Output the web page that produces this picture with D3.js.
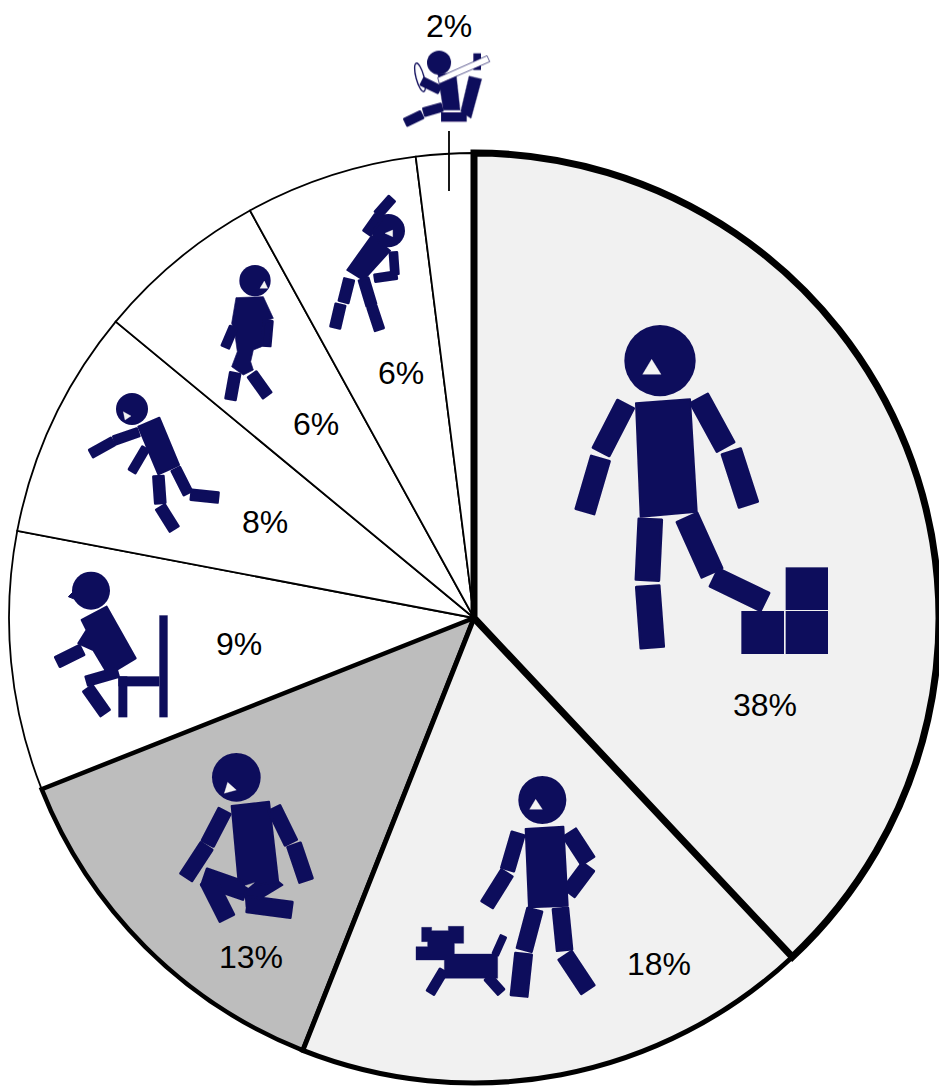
<!DOCTYPE html>
<html>
<head>
<meta charset="utf-8">
<script src="https://cdn.jsdelivr.net/npm/d3@7"></script>
<style>
  html, body { margin: 0; padding: 0; background: #fff; overflow: hidden; }
  svg { display: block; }
  text { font-family: "Liberation Sans", Arial, sans-serif; font-size: 32px; fill: #000; text-anchor: middle; dominant-baseline: central; }
</style>
</head>
<body>
<div id="container"></div>
<script>
// values, clockwise from 12 o'clock
const values = [38, 18, 13, 9, 8, 6, 6, 2];
const labels = ['38%', '18%', '13%', '9%', '8%', '6%', '6%', '2%'];

const width = 939;
const height = 1086;
const cx = 474;
const cy = 618;
const radius = 465;
const navy = '#0d0b5b';

const sliceFill = ['#f1f1f1', '#f1f1f1', '#bdbdbd', '#fff', '#fff', '#fff', '#fff', '#fff'];
const sliceStroke = [7, 5, 4.5, 1.8, 1.8, 1.8, 1.8, 1.8];
const labelPos = [[765, 705], [659, 964], [251, 957], [239, 644], [265, 522], [316, 424], [401, 373], [449, 26]];

const svg = d3.select('#container').append('svg')
  .attr('width', width)
  .attr('height', height);

svg.append('filter').attr('id', 'soft')
  .append('feGaussianBlur').attr('stdDeviation', 1.2);

const pie = d3.pie().sort(null)(values);
const arc = d3.arc().innerRadius(0).outerRadius(radius);

// thin slices first so the heavy outlines sit on top
svg.append('g')
  .attr('transform', `translate(${cx},${cy})`)
  .selectAll('path')
  .data(pie.map((d, i) => ({ ...d, i })).sort((a, b) => sliceStroke[a.i] - sliceStroke[b.i]))
  .enter()
  .append('path')
  .attr('d', arc)
  .attr('fill', d => sliceFill[d.i])
  .attr('stroke', '#000')
  .attr('stroke-width', d => sliceStroke[d.i])
  .attr('stroke-linejoin', 'miter');

// leader for the 2% slice
svg.append('line')
  .attr('x1', 449).attr('x2', 449)
  .attr('y1', 131).attr('y2', 191)
  .attr('stroke', '#000').attr('stroke-width', 1.8);

svg.selectAll('text.pct')
  .data(labels)
  .enter()
  .append('text')
  .attr('class', 'pct')
  .attr('x', (d, i) => labelPos[i][0])
  .attr('y', (d, i) => labelPos[i][1])
  .text(d => d);

// icon helpers, coordinates are in 3x crop pixels
const icon = (ox, oy) => svg.append('g')
  .attr('transform', `translate(${ox},${oy}) scale(${1 / 3})`)
  .attr('filter', 'url(#soft)');

const poly = (g, pts, fill = navy, round = 6) => g.append('polygon')
  .attr('points', pts.map(p => p.join(',')).join(' '))
  .attr('fill', fill)
  .attr('stroke', fill)
  .attr('stroke-width', round)
  .attr('stroke-linejoin', 'round');

const limb = (g, x1, y1, x2, y2, w0) => {
  const w = w0 + 5;
  const len = Math.hypot(x2 - x1, y2 - y1);
  const nx = -(y2 - y1) / len * (w - 8) / 2;
  const ny = (x2 - x1) / len * (w - 8) / 2;
  const ux = (x2 - x1) / len * 3;
  const uy = (y2 - y1) / len * 3;
  poly(g, [
    [x1 + nx + ux, y1 + ny + uy], [x2 + nx - ux, y2 + ny - uy],
    [x2 - nx - ux, y2 - ny - uy], [x1 - nx + ux, y1 - ny + uy]
  ], navy, 8);
};

const head = (g, x, y, r) => g.append('circle').attr('cx', x).attr('cy', y).attr('r', r).attr('fill', navy);
const eye = (g, pts) => poly(g, pts, '#f4f4f4', 1);
const box = (g, x0, y0, x1, y1, fill = navy) => g.append('rect')
  .attr('x', x0).attr('y', y0).attr('width', x1 - x0).attr('height', y1 - y0).attr('fill', fill);

// 38%: foot on the steps
{
  const g = icon(560, 310);
  head(g, 300, 152, 107);
  eye(g, [[275, 148], [303, 193], [248, 193]]);
  poly(g, [[228, 280], [390, 268], [410, 605], [242, 620]]);
  limb(g, 198, 280, 122, 428, 58);
  limb(g, 122, 443, 74, 607, 60);
  limb(g, 416, 263, 498, 413, 62);
  limb(g, 513, 422, 566, 586, 62);
  limb(g, 271, 625, 262, 813, 72);
  limb(g, 263, 826, 277, 1015, 72);
  limb(g, 380, 620, 457, 791, 70);
  limb(g, 460, 801, 617, 877, 62);
  box(g, 544, 903, 672, 1032);
  box(g, 677, 903, 804, 1032);
  box(g, 677, 772, 804, 900);
}

// 18%: walking the dog
{
  const g = icon(400, 760);
  head(g, 427, 120, 72);
  eye(g, [[407, 118], [427, 148], [389, 148]]);
  poly(g, [[377, 207], [490, 200], [503, 437], [387, 442]]);
  limb(g, 355, 218, 322, 331, 42);
  limb(g, 322, 337, 260, 436, 42);
  limb(g, 507, 216, 565, 305, 48);
  limb(g, 566, 318, 505, 400, 46);
  limb(g, 405, 447, 372, 572, 48);
  limb(g, 371, 579, 357, 710, 52);
  limb(g, 481, 443, 494, 573, 48);
  limb(g, 494, 584, 565, 691, 50);
  poly(g, [[65, 502], [95, 502], [95, 512], [145, 512], [145, 499], [191, 499], [191, 550], [163, 550],
    [163, 582], [293, 582], [293, 655], [133, 655], [133, 600], [48, 600], [48, 560], [83, 560], [83, 545], [65, 545]], navy, 1);
  limb(g, 132, 630, 90, 700, 27);
  limb(g, 262, 650, 305, 698, 27);
  limb(g, 311, 527, 285, 585, 19);
}

// 13%: kneeling
{
  const g = icon(165, 740);
  head(g, 214, 112, 73);
  eye(g, [[188, 127], [214, 150], [178, 160]]);
  poly(g, [[200, 198], [312, 185], [340, 430], [222, 440]]);
  limb(g, 180, 211, 127, 313, 42);
  limb(g, 126, 316, 62, 414, 44);
  limb(g, 326, 202, 379, 310, 42);
  limb(g, 386, 312, 424, 424, 44);
  limb(g, 115, 410, 245, 455, 55);
  limb(g, 128, 420, 187, 537, 50);
  poly(g, [[240, 440], [340, 425], [352, 435], [245, 500]]);
  limb(g, 245, 492, 382, 510, 50);
  poly(g, [[240, 437], [268, 428], [250, 443]], '#bdbdbd', 1);
}

// 9%: getting up from a chair
{
  const g = icon(40, 560);
  head(g, 153, 92, 57);
  poly(g, [[85, 110], [100, 95], [105, 118]], navy, 3);
  poly(g, [[125, 180], [200, 140], [287, 295], [205, 345], [160, 270], [115, 250], [140, 210]]);
  limb(g, 50, 307, 128, 269, 35);
  limb(g, 138, 364, 235, 336, 30);
  limb(g, 142, 383, 197, 461, 36);
  box(g, 358, 166, 383, 472);
  box(g, 235, 349, 358, 379);
  box(g, 235, 349, 262, 472);
}

// 8%: falling
{
  const g = icon(80, 385);
  head(g, 156, 72, 48);
  eye(g, [[130, 80], [153, 93], [135, 105]]);
  poly(g, [[175, 125], [238, 98], [297, 240], [235, 268]]);
  limb(g, 101, 167, 177, 141, 27);
  limb(g, 31, 207, 101, 168, 27);
  limb(g, 198, 188, 155, 261, 25);
  limb(g, 235, 271, 241, 357, 33);
  limb(g, 240, 364, 284, 434, 33);
  limb(g, 286, 250, 325, 327, 30);
  limb(g, 331, 329, 417, 338, 33);
}

// 6%: walking
{
  const g = icon(210, 255);
  head(g, 135, 77, 47);
  eye(g, [[163, 78], [173, 100], [150, 100]]);
  poly(g, [[78, 128], [160, 125], [190, 190], [160, 200], [155, 275], [130, 285], [122, 320], [130, 345],
    [100, 360], [65, 335], [82, 290], [75, 240], [65, 205]], navy, 2);
  limb(g, 72, 215, 45, 278, 26);
  limb(g, 175, 195, 168, 275, 28);
  limb(g, 76, 352, 61, 435, 33);
  limb(g, 125, 356, 173, 423, 33);
}

// 6%: side stretch
{
  const g = icon(320, 190);
  head(g, 205, 122, 50);
  eye(g, [[218, 120], [218, 140], [195, 130]]);
  limb(g, 177, 78, 139, 131, 28);
  limb(g, 217, 24, 172, 75, 27);
  poly(g, [[155, 138], [210, 182], [130, 270], [82, 240]]);
  limb(g, 220, 185, 225, 255, 24);
  limb(g, 232, 255, 162, 265, 24);
  limb(g, 88, 266, 70, 338, 32);
  limb(g, 62, 342, 45, 415, 32);
  limb(g, 130, 265, 155, 348, 32);
  limb(g, 155, 348, 179, 421, 30);
}

// 2%: driver with seat belt
{
  const g = icon(395, 5);
  box(g, 235, 145, 258, 195);
  head(g, 132, 173, 36);
  g.append('ellipse')
    .attr('cx', 75).attr('cy', 217).attr('rx', 12).attr('ry', 44)
    .attr('transform', 'rotate(-15 75 217)')
    .attr('fill', '#fff').attr('stroke', navy).attr('stroke-width', 4);
  limb(g, 80, 228, 135, 255, 24);
  poly(g, [[128, 205], [183, 205], [195, 315], [145, 315]], navy, 1);
  box(g, 138, 322, 215, 350);
  poly(g, [[222, 213], [260, 222], [228, 340], [197, 320]], navy, 1);
  limb(g, 85, 322, 142, 306, 24);
  limb(g, 30, 353, 82, 328, 24);
  g.append('polygon')
    .attr('points', '128,218 276,152 284,170 133,236')
    .attr('fill', '#fff').attr('stroke', navy).attr('stroke-width', 2);
}
</script>
</body>
</html>
